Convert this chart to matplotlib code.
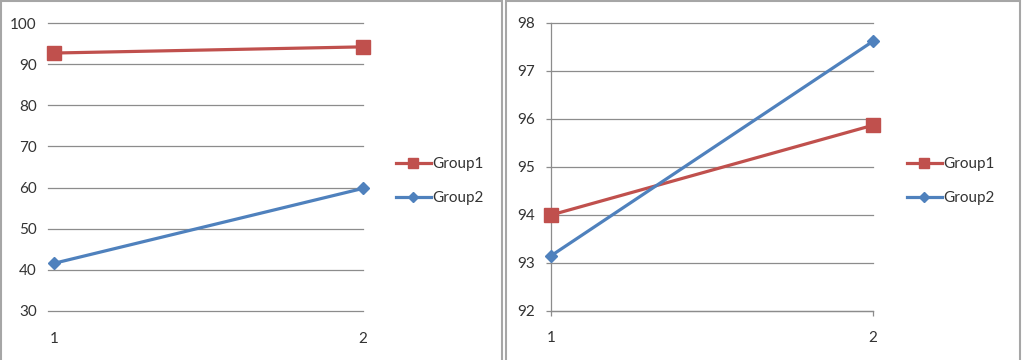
import matplotlib
matplotlib.use('Agg')
import matplotlib.pyplot as plt
from matplotlib.patches import Rectangle

plt.rcParams['font.family'] = ['Lato', 'DejaVu Sans']

x = [1, 2]
labels = ['Group1', 'Group2']
left_g1 = [92.7, 94.2]
left_g2 = [41.6, 59.8]
right_g1 = [94.0, 95.87]
right_g2 = [93.15, 97.62]
left_yticks = [30, 40, 50, 60, 70, 80, 90, 100]
right_yticks = [92, 93, 94, 95, 96, 97, 98]

red = '#C0504D'
blue = '#4F81BD'
grid = '#8C8C8C'
txt = '#333333'

W, H = 1026, 360
fig = plt.figure(figsize=(W / 100, H / 100), dpi=100)

# panel borders (open at the bottom)
for x0, x1 in [(1, 502), (505.5, 1020)]:
    fig.add_artist(Rectangle((x0 / W, -0.1), (x1 - x0) / W, 1.1 - 1.5 / H,
                             transform=fig.transFigure, fill=False,
                             edgecolor='#A6A6A6', linewidth=1.5))

bottom = 1 - 311 / H
height = (311 - 23) / H

def draw(ax, g1, g2, yticks, xlo, show_axes):
    ax.plot(x, g1, color=red, lw=2.3, marker='s', ms=10, clip_on=False,
            label=labels[0], zorder=3)
    ax.plot(x, g2, color=blue, lw=2.3, marker='D', ms=6.5, clip_on=False,
            label=labels[1], zorder=3)
    ax.set_ylim(yticks[0], yticks[-1])
    ax.set_yticks(yticks)
    ax.set_xlim(xlo, 2)
    ax.set_xticks(x)
    ax.set_xticklabels(['1', '2'])
    ax.yaxis.grid(True, color=grid, lw=0.9)
    for l in ax.get_ygridlines():
        l.set_clip_on(False)
    ax.set_axisbelow(True)
    for s in ['top', 'right']:
        ax.spines[s].set_visible(False)
    if show_axes:
        ax.spines['left'].set_color(grid)
        ax.spines['bottom'].set_color(grid)
        ax.spines['left'].set_linewidth(0.9)
        ax.spines['bottom'].set_linewidth(0.9)
        ax.tick_params(axis='both', length=3.5, color=grid, width=0.9)
        ax.tick_params(axis='y', pad=8)
        ax.tick_params(axis='x', pad=11)
    else:
        ax.spines['left'].set_visible(False)
        ax.spines['bottom'].set_visible(False)
        ax.tick_params(axis='both', length=0)
        ax.tick_params(axis='y', pad=8)
        ax.tick_params(axis='x', pad=15)
    ax.tick_params(labelsize=11, labelcolor=txt)

ax1 = fig.add_axes([48 / W, bottom, 315 / W, height])
draw(ax1, left_g1, left_g2, left_yticks, 0.98, False)
ax2 = fig.add_axes([551 / W, bottom, 322 / W, height])
draw(ax2, right_g1, right_g2, right_yticks, 1.0, True)

for ax, lx in [(ax1, 388), (ax2, 899)]:
    ax.legend(loc='center left', bbox_to_anchor=(lx / W, 1 - 181 / H),
              bbox_transform=fig.transFigure, frameon=False, fontsize=11,
              labelspacing=1.3, handlelength=2.3, handletextpad=0.1,
              markerscale=0.75, labelcolor=txt, borderpad=0)

fig.savefig('out.png', dpi=100)
